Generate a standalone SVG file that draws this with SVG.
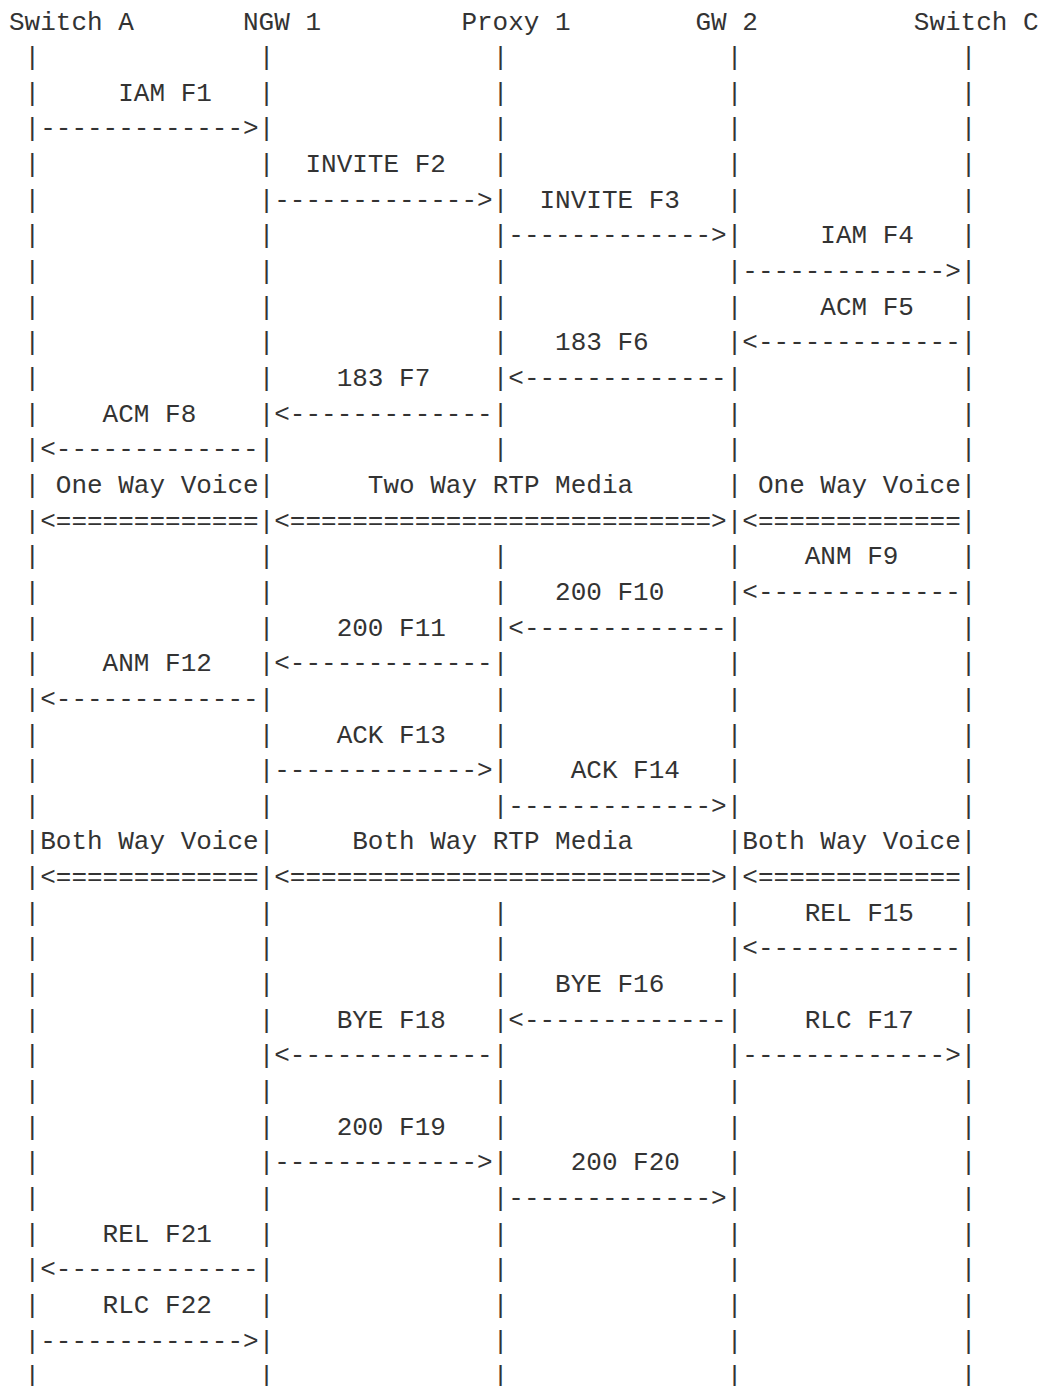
<svg xmlns="http://www.w3.org/2000/svg" width="1044" height="1386" viewBox="0 0 1044 1386">
<style>
text{font-family:"Liberation Mono","DejaVu Sans Mono",monospace;font-size:26px;fill:#333;white-space:pre}
</style>
<rect width="1044" height="1386" fill="#fff"/>
<g id="node-switch-a"><text x="9" y="29.5">Switch A</text></g>
<g id="node-ngw-1"><text x="243" y="29.5">NGW 1</text></g>
<g id="node-proxy-1"><text x="461.4" y="29.5">Proxy 1</text></g>
<g id="node-gw-2"><text x="695.4" y="29.5">GW 2</text></g>
<g id="node-switch-c"><text x="913.8" y="29.5">Switch C</text></g>
<g id="connectors" xml:space="preserve">
<text x="9" y="65.15"> |              |              |              |              |</text>
<text x="9" y="100.8"> |     IAM F1   |              |              |              |</text>
<text x="9" y="136.45"> |-------------&gt;|              |              |              |</text>
<text x="9" y="172.1"> |              |  INVITE F2   |              |              |</text>
<text x="9" y="207.75"> |              |-------------&gt;|  INVITE F3   |              |</text>
<text x="9" y="243.4"> |              |              |-------------&gt;|     IAM F4   |</text>
<text x="9" y="279.05"> |              |              |              |-------------&gt;|</text>
<text x="9" y="314.7"> |              |              |              |     ACM F5   |</text>
<text x="9" y="350.35"> |              |              |   183 F6     |&lt;-------------|</text>
<text x="9" y="386"> |              |    183 F7    |&lt;-------------|              |</text>
<text x="9" y="421.65"> |    ACM F8    |&lt;-------------|              |              |</text>
<text x="9" y="457.3"> |&lt;-------------|              |              |              |</text>
<text x="9" y="492.95"> | One Way Voice|      Two Way RTP Media      | One Way Voice|</text>
<text x="9" y="528.6"> |&lt;=============|&lt;===========================&gt;|&lt;=============|</text>
<text x="9" y="564.25"> |              |              |              |    ANM F9    |</text>
<text x="9" y="599.9"> |              |              |   200 F10    |&lt;-------------|</text>
<text x="9" y="635.55"> |              |    200 F11   |&lt;-------------|              |</text>
<text x="9" y="671.2"> |    ANM F12   |&lt;-------------|              |              |</text>
<text x="9" y="706.85"> |&lt;-------------|              |              |              |</text>
<text x="9" y="742.5"> |              |    ACK F13   |              |              |</text>
<text x="9" y="778.15"> |              |-------------&gt;|    ACK F14   |              |</text>
<text x="9" y="813.8"> |              |              |-------------&gt;|              |</text>
<text x="9" y="849.45"> |Both Way Voice|     Both Way RTP Media      |Both Way Voice|</text>
<text x="9" y="885.1"> |&lt;=============|&lt;===========================&gt;|&lt;=============|</text>
<text x="9" y="920.75"> |              |              |              |    REL F15   |</text>
<text x="9" y="956.4"> |              |              |              |&lt;-------------|</text>
<text x="9" y="992.05"> |              |              |   BYE F16    |              |</text>
<text x="9" y="1027.7"> |              |    BYE F18   |&lt;-------------|    RLC F17   |</text>
<text x="9" y="1063.35"> |              |&lt;-------------|              |-------------&gt;|</text>
<text x="9" y="1099"> |              |              |              |              |</text>
<text x="9" y="1134.65"> |              |    200 F19   |              |              |</text>
<text x="9" y="1170.3"> |              |-------------&gt;|    200 F20   |              |</text>
<text x="9" y="1205.95"> |              |              |-------------&gt;|              |</text>
<text x="9" y="1241.6"> |    REL F21   |              |              |              |</text>
<text x="9" y="1277.25"> |&lt;-------------|              |              |              |</text>
<text x="9" y="1312.9"> |    RLC F22   |              |              |              |</text>
<text x="9" y="1348.55"> |-------------&gt;|              |              |              |</text>
<text x="9" y="1384.2"> |              |              |              |              |</text>
</g>
</svg>
